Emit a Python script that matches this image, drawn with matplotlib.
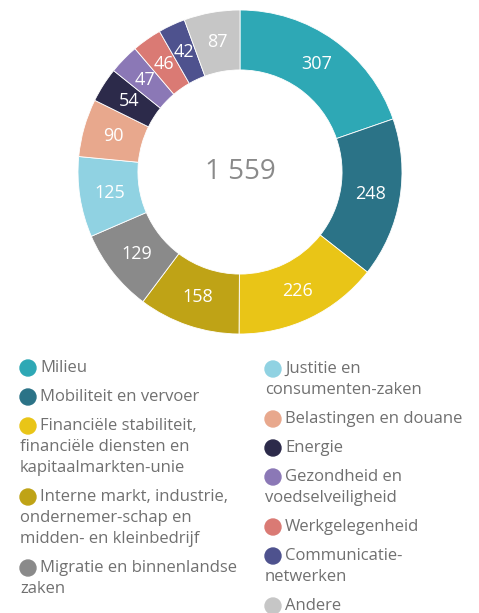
import matplotlib
matplotlib.use('Agg')
import matplotlib.pyplot as plt
from matplotlib.patches import Ellipse

# Values (total 1 559)
categories = ['Milieu', 'Mobiliteit en vervoer',
              'Financiële stabiliteit,\nfinanciële diensten en\nkapitaalmarkten-unie',
              'Interne markt, industrie,\nondernemer-schap en\nmidden- en kleinbedrijf',
              'Migratie en binnenlandse\nzaken',
              'Justitie en\nconsumenten-zaken',
              'Belastingen en douane', 'Energie',
              'Gezondheid en\nvoedselveiligheid', 'Werkgelegenheid',
              'Communicatie-\nnetwerken', 'Andere']
values = [307, 248, 226, 158, 129, 125, 90, 54, 47, 46, 42, 87]
colors = ['#2EA8B5', '#2B7387', '#E9C517', '#BFA316', '#8A8A8A', '#90D2E2',
          '#E8A88D', '#2C2A4A', '#8B78B6', '#DA7A74', '#4E528E', '#C6C6C6']
total_label = '1 559'

plt.rcParams['font.family'] = ['Open Sans', 'DejaVu Sans']

W, H = 479, 613
fig = plt.figure(figsize=(W / 100, H / 100), dpi=100)

# donut axes in pixel terms
cx, cy, r = 240, 172, 162
ax = fig.add_axes([(cx - r) / W, (H - cy - r) / H, 2 * r / W, 2 * r / H])
wedges, texts = ax.pie(values, colors=colors, startangle=90, counterclock=False,
                       radius=1, labels=[str(v) for v in values], labeldistance=0.815,
                       wedgeprops=dict(width=0.37, edgecolor='white', linewidth=0.6),
                       textprops=dict(color='white', fontsize=13, ha='center', va='center'))
ax.set_xlim(-1, 1)
ax.set_ylim(-1, 1)
ax.set_aspect('equal')
ax.text(0, 0, total_label, ha='center', va='center', fontsize=20, color='#8A8A8A')
ax.axis('off')

# legend, two columns, wrapped lines start under the marker
text_color = '#707070'
line_h = 21
gap = 8
columns = [(20, 368, range(0, 5)), (265, 369, range(5, 12))]
for mx, y0, idx in columns:
    y = y0
    for i in idx:
        lines = categories[i].split('\n')
        fig.add_artist(Ellipse(((mx + 8) / W, 1 - y / H), 16 / W, 16 / H,
                               transform=fig.transFigure, color=colors[i]))
        for k, line in enumerate(lines):
            tx = mx + 20 if k == 0 else mx
            fig.text(tx / W, 1 - (y + k * line_h) / H, line, ha='left', va='center',
                     fontsize=12, color=text_color)
        y += len(lines) * line_h + gap

fig.savefig('out.png', dpi=100)
